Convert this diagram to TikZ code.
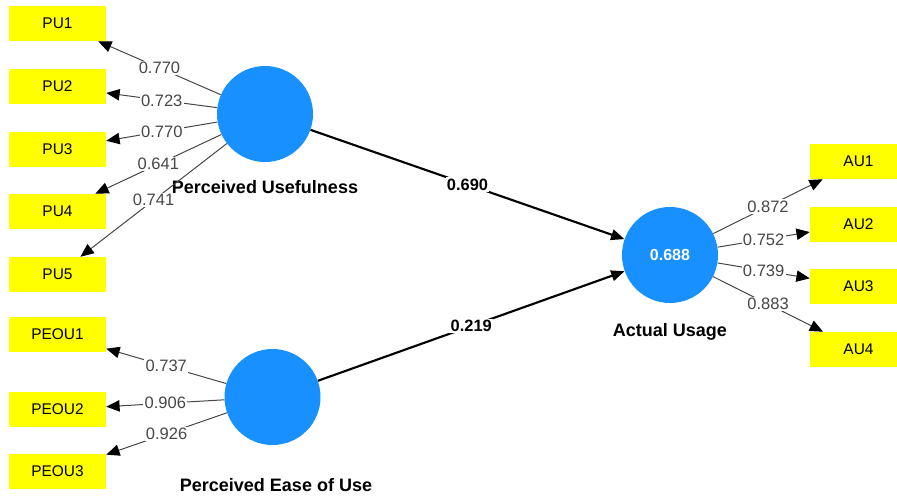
\documentclass[tikz,border=0pt]{standalone}
\usepackage{fontspec}
\setmainfont{Liberation Sans}
\usetikzlibrary{arrows.meta}
\definecolor{lvblue}{RGB}{24,144,255}
\definecolor{indyellow}{RGB}{255,255,0}
\begin{document}
\begin{tikzpicture}[x=0.75pt,y=-0.75pt,
  indicator/.style={fill=indyellow, minimum width=72.75pt, minimum height=26.25pt, inner sep=0pt, font=\fontsize{11.6}{13}\selectfont},
  latent/.style={circle, fill=lvblue, minimum size=72pt, inner sep=0pt, text=white, font=\bfseries\fontsize{12}{14}\selectfont},
  lvname/.style={font=\bfseries\fontsize{13.5}{16}\selectfont},
  loading/.style={draw=black!72, line width=0.75pt, -{Triangle[length=10pt,width=8.5pt,color=black]}},
  pathc/.style={draw=black, line width=1.6pt, -{Triangle[length=10pt,width=8pt]}},
  loadlbl/.style={fill=white, inner sep=1pt, text=black!72, font=\fontsize{12.4}{14}\selectfont},
  pathlbl/.style={fill=white, inner sep=1pt, font=\bfseries\fontsize{12.3}{14}\selectfont}]
\useasboundingbox (0,0) rectangle (897,497);
\fill[white] (0,0) rectangle (897,497);
% indicators
\node[indicator] (PU1) at (57.5,23.5) {PU1};
\node[indicator] (PU2) at (57.5,86.5) {PU2};
\node[indicator] (PU3) at (57.5,149) {PU3};
\node[indicator] (PU4) at (57.5,211.5) {PU4};
\node[indicator] (PU5) at (57.5,274.5) {PU5};
\node[indicator] (PEOU1) at (57.5,334.5) {PEOU1};
\node[indicator] (PEOU2) at (57.5,409.5) {PEOU2};
\node[indicator] (PEOU3) at (57.5,471.5) {PEOU3};
\node[indicator] (AU1) at (858.5,161.5) {AU1};
\node[indicator] (AU2) at (858.5,224) {AU2};
\node[indicator] (AU3) at (858.5,286.5) {AU3};
\node[indicator] (AU4) at (858.5,349.5) {AU4};
% latent variables
\node[latent] (PU) at (265,114) {};
\node[latent] (PEOU) at (272.5,397) {};
\node[latent] (AU) at (670,255) {0.688};
\node[lvname] (PUname) at (265,187) {Perceived Usefulness};
\node[lvname] (PEOUname) at (276,485) {Perceived Ease of Use};
\node[lvname] (AUname) at (670,332) {Actual Usage};
% loadings
\draw[loading] (PU) -- node[loadlbl] {0.770} (PU1);
\draw[loading] (PU) -- node[loadlbl] {0.723} (PU2);
\draw[loading] (PU) -- node[loadlbl] {0.770} (PU3);
\draw[loading] (PU) -- node[loadlbl] {0.641} (PU4);
\draw[loading] (PU) -- node[loadlbl] {0.741} (PU5);
\draw[loading] (PEOU) -- node[loadlbl] {0.737} (PEOU1);
\draw[loading] (PEOU) -- node[loadlbl] {0.906} (PEOU2);
\draw[loading] (PEOU) -- node[loadlbl] {0.926} (PEOU3);
\draw[loading] (AU) -- node[loadlbl] {0.872} (AU1);
\draw[loading] (AU) -- node[loadlbl] {0.752} (AU2);
\draw[loading] (AU) -- node[loadlbl] {0.739} (AU3);
\draw[loading] (AU) -- node[loadlbl] {0.883} (AU4);
% structural paths
\draw[pathc] (PU) -- node[pathlbl] {0.690} (AU);
\draw[pathc] (PEOU) -- node[pathlbl] {0.219} (AU);
\end{tikzpicture}
\end{document}
